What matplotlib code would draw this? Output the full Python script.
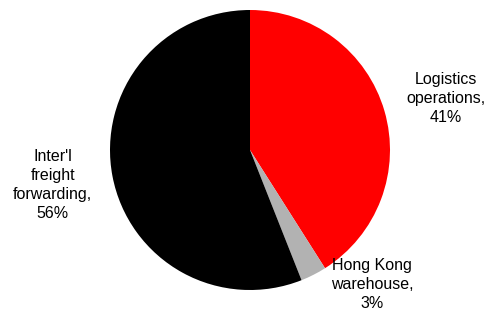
import matplotlib.pyplot as plt

plt.rcParams['font.family'] = ['Liberation Sans', 'DejaVu Sans']

# Revenue split by business segment
segments = ['Logistics\noperations', 'Hong Kong\nwarehouse', "Inter'l\nfreight\nforwarding"]
shares = [41, 3, 56]
colors = ['#ff0000', '#b2b2b2', '#000000']
# label centres, in pie-radius units
label_pos = [(1.40, 0.37), (0.87, -0.96), (-1.41, -0.25)]

fig = plt.figure(figsize=(4.9, 3.31), dpi=100)
ax = fig.add_axes([110 / 490, 41 / 331, 280 / 490, 280 / 331])

ax.pie(shares, colors=colors, startangle=90, counterclock=False,
       wedgeprops=dict(linewidth=0))

for name, val, (x, y) in zip(segments, shares, label_pos):
    ax.text(x, y, f'{name},\n{val}%', ha='center', va='center',
            fontsize=11.5, linespacing=1.32, clip_on=False)

ax.set_xlim(-1, 1)
ax.set_ylim(-1, 1)
ax.set_aspect('equal')
ax.axis('off')

fig.savefig('out.png', dpi=100)
